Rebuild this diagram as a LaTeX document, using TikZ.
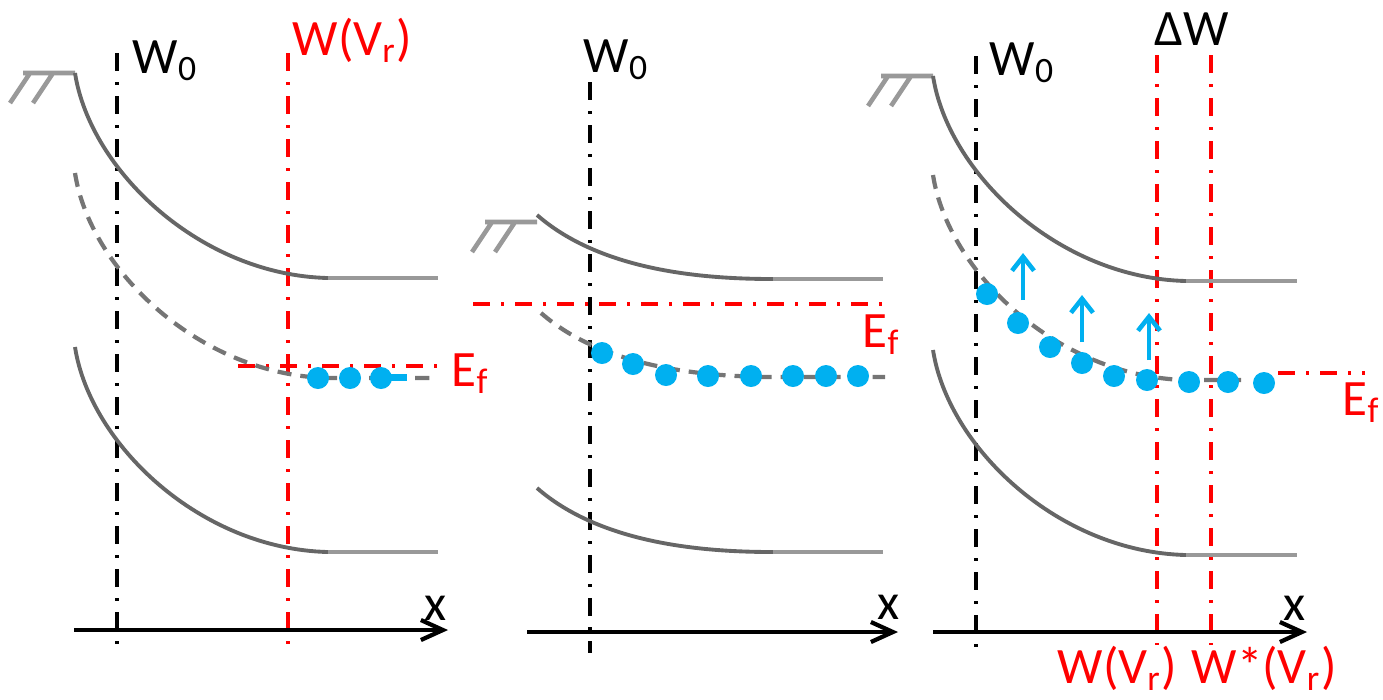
\documentclass[tikz,border=0pt]{standalone}
\usepackage{fontspec}
\setmainfont{Carlito}
\usepackage{xcolor}
\usepackage{tikz}
\usetikzlibrary{arrows.meta}
\definecolor{bandgray}{HTML}{666666}
\definecolor{flatgray}{HTML}{999999}
\definecolor{dotblue}{HTML}{00B0F0}

\begin{document}
\begin{tikzpicture}[
    x=0.01cm, y=-0.01cm,
    band/.style={draw=bandgray, line width=1.1pt},
    flat/.style={draw=flatgray, line width=1.3pt},
    hatch/.style={draw=flatgray, line width=1.3pt},
    level/.style={draw=bandgray!90, line width=1.2pt, dash pattern=on 0.14cm off 0.09cm},
    wline/.style={line width=1.4pt, dash pattern=on 0.18cm off 0.11cm on 0.03cm off 0.11cm},
    fermi/.style={red, line width=1.1pt, dash pattern=on 0.17cm off 0.11cm on 0.03cm off 0.11cm},
    axis/.style={-{Straight Barb[length=2.2mm,width=2mm]}, line width=1.2pt},
    lift/.style={-{Straight Barb[length=1.4mm,width=2.2mm]}, dotblue, line width=1.3pt},
    electron/.style={fill=dotblue},
    lbl/.style={inner sep=0pt, anchor=base west, font=\fontsize{14.5}{17}\selectfont}
]
\useasboundingbox (0,0) rectangle (1383,699);

% depletion edges
\draw[wline, black] (117,53) -- (117,653);
\draw[wline, black] (590,82) -- (590,653);
\draw[wline, black] (976,56) -- (976,655);
\draw[wline, red] (288,53) -- (288,652);
\draw[wline, red] (1157,55) -- (1157,645);
\draw[wline, red] (1211,55) -- (1211,645);

% Fermi levels
\draw[fermi] (238,366) -- (438,366);
\draw[fermi] (473,304) -- (887,304);
\draw[fermi] (1278,373) -- (1365,373);

% metal contacts
\foreach \cx/\cy in {75/73, 537/222, 933/76}
    \draw[hatch, shift={(\cx,\cy)}] (-52,0) -- (0,0) (-45,0) -- (-65,30) (-22,0) -- (-42,30);

% bands, panel 1
\foreach \dy in {0,274} {
    \draw[band, shift={(0,\dy)}] (75,73) .. controls (90,170) and (200,275) .. (328,278);
    \draw[flat, shift={(0,\dy)}] (328,278) -- (438,278);
}
\draw[level] (75,173) .. controls (90,270) and (200,375) .. (328,378) -- (438,378);

% bands, panel 2
\foreach \dy in {0,273} {
    \draw[band, shift={(0,\dy)}] (537,215) .. controls (600,270) and (700,279) .. (773,279);
    \draw[flat, shift={(0,\dy)}] (773,279) -- (883,279);
}
\draw[level] (541,313) .. controls (604,368) and (704,377) .. (777,377) -- (885,377);

% bands, panel 3
\foreach \dy in {0,274} {
    \draw[band, shift={(0,\dy)}] (933,76) .. controls (948,173) and (1058,278) .. (1186,281);
    \draw[flat, shift={(0,\dy)}] (1186,281) -- (1297,281);
}
\draw[level] (933,175) .. controls (948,272) and (1058,377) .. (1186,380) -- (1245,380);

% electrons
\foreach \x/\y in {318/378, 350/378, 381/378,
                   602/353, 633/364, 666/375, 708/376, 751/376, 793/376, 826/376, 858/376,
                   987/294, 1018/323, 1050/347, 1082/363, 1114/376, 1147/380, 1189/382, 1228/382, 1264/383}
    \fill[electron] (\x,\y) circle (0.11cm);
\fill[electron] (390,374) rectangle (407,381);

% lifted electrons
\draw[lift] (1023,300) -- (1023,253);
\draw[lift] (1082,342) -- (1082,295);
\draw[lift] (1149,360) -- (1149,313);

% x axes
\draw[axis] (74,630) -- (448,630);
\draw[axis] (527,632) -- (898,632);
\draw[axis] (933,632) -- (1307,632);

% labels
\node[lbl] (w0a) at (132,73) {W\textsubscript{0}};
\node[lbl, red] (wr1) at (292,55) {W(V\textsubscript{r})};
\node[lbl, red] (ef1) at (451,386) {E\textsubscript{f}};
\node[lbl] (xa1) at (424,620) {x};

\node[lbl] (w0b) at (583,72) {W\textsubscript{0}};
\node[lbl, red] (ef2) at (862,347) {E\textsubscript{f}};
\node[lbl] (xa2) at (877,619) {x};

\node[lbl] (w0c) at (989,75) {W\textsubscript{0}};
\node[lbl] (dw) at (1154,45) {ΔW};
\node[lbl, red] (ef3) at (1342,415) {E\textsubscript{f}};
\node[lbl] (xa3) at (1283,620) {x};
\node[lbl, red] (wr3) at (1057,683) {W(V\textsubscript{r})};
\node[lbl, red] (wr3s) at (1191,683) {W*(V\textsubscript{r})};
\end{tikzpicture}
\end{document}
